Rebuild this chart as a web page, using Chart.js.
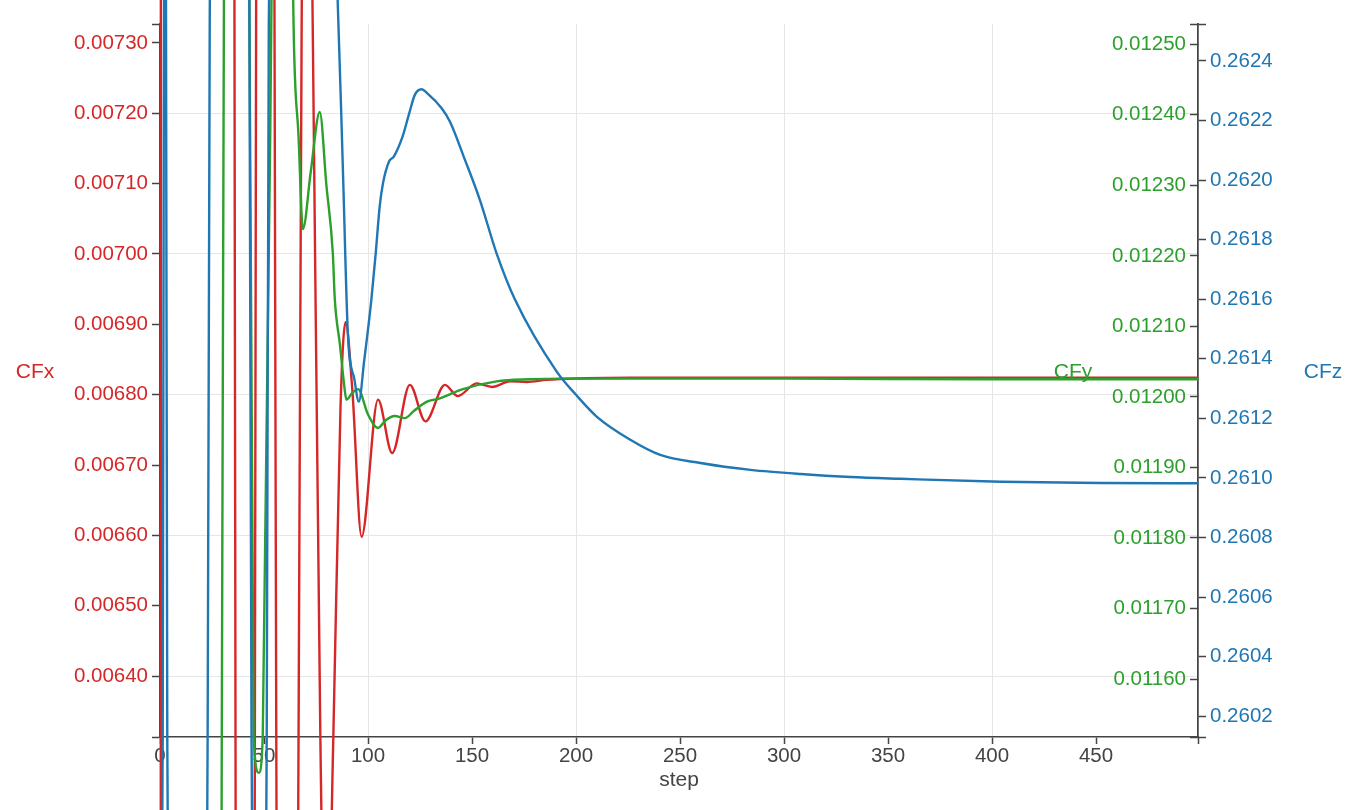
<!DOCTYPE html>
<html>
<head>
<meta charset="utf-8">
<title>CFx / CFy / CFz</title>
<script src="https://cdn.jsdelivr.net/npm/chart.js@4.4.1/dist/chart.umd.min.js"></script>
<style>
  html, body { margin: 0; padding: 0; background: #fff; }
  canvas { display: block; }
</style>
</head>
<body>
<canvas id="myChart" width="1369" height="810"></canvas>
<script>
// values (steps are not evenly spaced)
const cfxSteps = [0, 1, 8, 18, 28, 33, 35.8, 36.3, 41, 45.6, 46.2, 50.8, 55.05, 55.9, 61, 66.6, 68.1, 70.8, 73.4, 77.1, 79.8, 83.3, 86.8, 89.2, 92.5, 96.9, 104.8, 111.6, 120.1, 127.6, 137, 143.1, 152.2, 159.7, 168.3, 176.3, 185.9, 200, 230, 300, 400, 499];
const cfxValues = [-0.012, 0.03, 0.045, 0.04, 0.022, 0.012, 0.00733, 0.00631, 0.0003, 0.00631, 0.00733, 0.0118, 0.00733, 0.00631, 0.0033, 0.00631, 0.00733, 0.0080, 0.00733, 0.00631, 0.0059, 0.00631, 0.006785, 0.006903, 0.006805, 0.006598, 0.006793, 0.006717, 0.006814, 0.006762, 0.006814, 0.006798, 0.006816, 0.006811, 0.006819, 0.006818, 0.006821, 0.006823, 0.006824, 0.0068243, 0.0068243, 0.0068242];

const cfySteps = [0, 12, 24, 29.7, 30.7, 36, 41, 43, 45, 47.5, 49.4, 53.5, 58, 64.2, 66.6, 68.7, 72.5, 76.8, 80, 83.1, 84, 86.5, 88.8, 89.6, 92.5, 95.2, 100, 104.8, 108.5, 112.9, 117.7, 122, 128.1, 134.5, 145.6, 161.8, 177.9, 193.8, 230, 300, 400, 499];
const cfyValues = [0.006, -0.004, 0.004, 0.01152, 0.01253, 0.019, 0.0155, 0.01253, 0.01152, 0.011467, 0.01152, 0.01253, 0.0142, 0.01253, 0.01237, 0.012238, 0.01232, 0.012404, 0.0123, 0.012203, 0.01214, 0.012074, 0.01201, 0.011996, 0.012006, 0.012011, 0.011975, 0.011956, 0.011967, 0.011973, 0.01197, 0.01198, 0.011993, 0.011998, 0.012011, 0.012022, 0.012025, 0.012026, 0.012026, 0.012026, 0.012025, 0.012025];

const cfzSteps = [0, 1.3, 1.9, 2.4, 2.9, 3.5, 4.5, 12, 22.9, 23.9, 33, 43, 44, 48, 51.3, 52.3, 68, 82, 85.4, 88, 90.3, 93.5, 95.6, 98.2, 101.6, 103.7, 105.6, 107.2, 110.1, 112.4, 116.6, 119.8, 122.5, 125.7, 128.4, 135.4, 139.4, 146.6, 153.8, 161.8, 170.7, 190.8, 200, 209.9, 226.1, 240.5, 259.8, 283.9, 308, 332, 356.1, 404.3, 452.5, 499];
const cfzValues = [0.2585, 0.26013, 0.26252, 0.2640, 0.26252, 0.26013, 0.2590, 0.2550, 0.26013, 0.26252, 0.2680, 0.26252, 0.26013, 0.2585, 0.26013, 0.26252, 0.2660, 0.2630, 0.262605, 0.262017, 0.261487, 0.261329, 0.261256, 0.261396, 0.261598, 0.261754, 0.261911, 0.261989, 0.262062, 0.262079, 0.262146, 0.262224, 0.262286, 0.262305, 0.262292, 0.262241, 0.262196, 0.262068, 0.261933, 0.261754, 0.261598, 0.261356, 0.261279, 0.261206, 0.261128, 0.261077, 0.26105, 0.261027, 0.261013, 0.261003, 0.260997, 0.260987, 0.260983, 0.260982];

// tick labels
const xTicks = [0, 50, 100, 150, 200, 250, 300, 350, 400, 450];
const cfxTicks = [0.0064, 0.0065, 0.0066, 0.0067, 0.0068, 0.0069, 0.0070, 0.0071, 0.0072, 0.0073];
const cfyTicks = [0.0116, 0.0117, 0.0118, 0.0119, 0.0120, 0.0121, 0.0122, 0.0123, 0.0124, 0.0125];
const cfzTicks = [0.2602, 0.2604, 0.2606, 0.2608, 0.2610, 0.2612, 0.2614, 0.2616, 0.2618, 0.2620, 0.2622, 0.2624];

const xRange = [0, 499];
const cfxRange = [0.0063133, 0.007327];
const cfyRange = [0.0115178, 0.0125288];
const cfzRange = [0.26013, 0.262524];

const RED = '#d62728', GREEN = '#2ca02c', BLUE = '#1f77b4';
const FONT = '"Liberation Sans", Arial, sans-serif';
const GRID = '#e6e6e6', AXIS = '#444';

const toPoints = (xs, ys) => xs.map((x, i) => ({ x, y: ys[i] }));
const onStep = (v, step) => Math.abs(v / step - Math.round(v / step)) < 1e-6;

// fixed ticks plus the plotly-like end ticks at both ends of the axis
const useTicks = (list) => (scale) => {
  const vals = [scale.min, ...list, scale.max].filter((v, i, a) => a.indexOf(v) === i);
  scale.ticks = vals.map(value => ({ value }));
};
const labelFrom = (list, digits) => (v) => list.includes(v) ? v.toFixed(digits) : '';

const axisTitles = {
  id: 'axisTitles',
  afterDraw(chart) {
    const { ctx, chartArea } = chart;
    const y = chartArea.top + 348;
    ctx.save();
    ctx.font = '21px ' + FONT;
    ctx.textAlign = 'center';
    ctx.textBaseline = 'middle';
    ctx.fillStyle = RED;
    ctx.fillText('CFx', 35, y);
    ctx.fillStyle = GREEN;
    ctx.fillText('CFy', 1073, y);
    ctx.fillStyle = BLUE;
    ctx.fillText('CFz', 1323, y);
    ctx.restore();
  }
};

const line = (label, steps, values, color, axis, order) => ({
  label,
  data: toPoints(steps, values),
  yAxisID: axis,
  borderColor: color,
  borderWidth: 2.4,
  pointRadius: 0,
  fill: false,
  cubicInterpolationMode: 'monotone',
  capBezierPoints: false,
  clip: false,
  order
});

const tickFont = { family: FONT, size: 20.5 };

new Chart(document.getElementById('myChart'), {
  type: 'line',
  data: {
    datasets: [
      line('CFx', cfxSteps, cfxValues, RED, 'y', 3),
      line('CFy', cfySteps, cfyValues, GREEN, 'y1', 2),
      line('CFz', cfzSteps, cfzValues, BLUE, 'y2', 1)
    ]
  },
  options: {
    responsive: false,
    animation: false,
    devicePixelRatio: 1,
    layout: { padding: { top: 24, left: 0, right: 0, bottom: 0 } },
    plugins: { legend: { display: false }, tooltip: { enabled: false } },
    scales: {
      x: {
        type: 'linear',
        position: 'bottom',
        min: xRange[0],
        max: xRange[1],
        afterBuildTicks: useTicks(xTicks),
        afterFit: s => { s.height = 73; },
        ticks: {
          autoSkip: false, maxRotation: 0,
          color: AXIS, font: tickFont, padding: 0,
          callback: labelFrom(xTicks, 0)
        },
        grid: {
          color: c => c.tick && onStep(c.tick.value, 100) ? GRID : 'rgba(0,0,0,0)',
          tickColor: AXIS, tickLength: 7, tickWidth: 1.5
        },
        border: { color: AXIS, width: 1.5 },
        title: { display: true, text: 'step', color: AXIS, font: { family: FONT, size: 21 }, padding: { top: 0, bottom: 17 } }
      },
      y: {
        position: 'left',
        min: cfxRange[0],
        max: cfxRange[1],
        afterBuildTicks: useTicks(cfxTicks),
        afterFit: s => { s.width = 160; },
        ticks: { autoSkip: false, color: RED, font: tickFont, padding: 4, callback: labelFrom(cfxTicks, 5) },
        grid: {
          color: c => c.tick && cfxTicks.includes(c.tick.value) && onStep(c.tick.value, 0.0002) ? GRID : 'rgba(0,0,0,0)',
          tickColor: AXIS, tickLength: 8, tickWidth: 1.5
        },
        border: { color: AXIS, width: 1.5 }
      },
      y1: {
        position: 'right',
        min: cfyRange[0],
        max: cfyRange[1],
        afterBuildTicks: useTicks(cfyTicks),
        afterFit: s => { s.width = 0; },
        ticks: { autoSkip: false, mirror: true, color: GREEN, font: tickFont, padding: -12, callback: labelFrom(cfyTicks, 5) },
        grid: { drawOnChartArea: false, tickColor: AXIS, tickLength: -8, tickWidth: 1.5 },
        border: { color: AXIS, width: 1.5 }
      },
      y2: {
        position: 'right',
        min: cfzRange[0],
        max: cfzRange[1],
        afterBuildTicks: useTicks(cfzTicks),
        afterFit: s => { s.width = 171; },
        ticks: { autoSkip: false, color: BLUE, font: tickFont, padding: 4, callback: labelFrom(cfzTicks, 4) },
        grid: { drawOnChartArea: false, tickColor: AXIS, tickLength: 8, tickWidth: 1.5 },
        border: { color: AXIS, width: 1.5 }
      }
    }
  },
  plugins: [axisTitles]
});
</script>
</body>
</html>
